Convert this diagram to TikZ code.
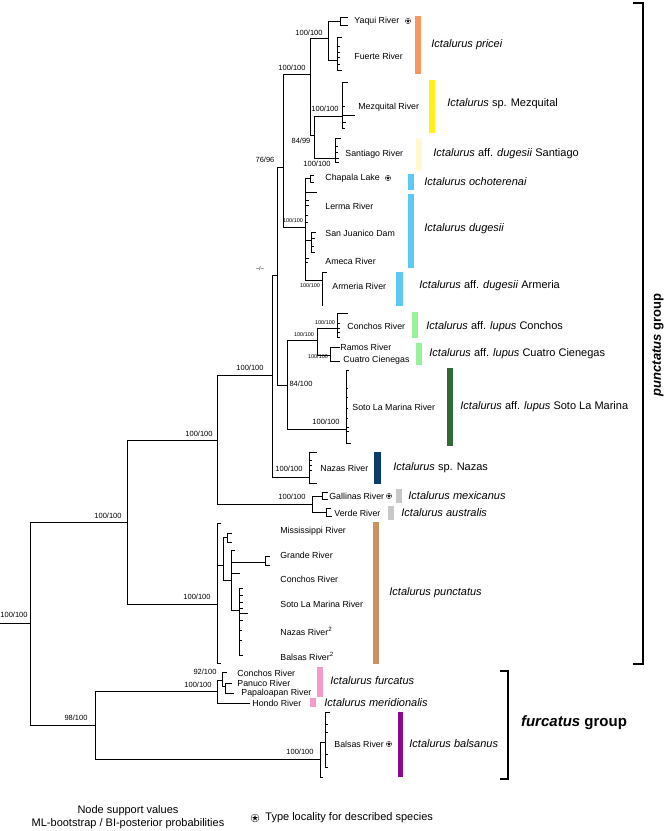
\documentclass[tikz,border=0pt]{standalone}
\usepackage{fontspec}
\setmainfont{Liberation Sans}
\definecolor{cpricei}{HTML}{F7965F}
\definecolor{cmezq}{HTML}{FFF21A}
\definecolor{csant}{HTML}{FFFAD0}
\definecolor{cdug}{HTML}{5BC8F5}
\definecolor{clupus}{HTML}{99F29A}
\definecolor{csoto}{HTML}{2F6B34}
\definecolor{cnazas}{HTML}{0D3B6E}
\definecolor{cgrey}{HTML}{C8C8C8}
\definecolor{cpunct}{HTML}{C8935F}
\definecolor{cfurc}{HTML}{F59BCB}
\definecolor{cbals}{HTML}{8B0A8B}
\begin{document}
\begin{tikzpicture}[x=1pt,y=-1pt,line width=0.8pt,
  tip/.style={anchor=west,inner sep=0pt,font=\fontsize{8.8}{10}\selectfont},
  spp/.style={anchor=west,inner sep=0pt,font=\fontsize{11}{13}\selectfont},
  supp/.style={inner sep=0pt,font=\fontsize{7.5}{9}\selectfont},
  suppsm/.style={inner sep=0pt,font=\fontsize{5.5}{7}\selectfont},
  typestar/.pic={\draw[line width=0.3pt] (0,0) circle (1);
    \fill (270:0.78) \foreach \a in {1,...,4}{-- (270+\a*144:0.78)} -- cycle;}]
\useasboundingbox (0,0) rectangle (669,831);

\coordinate (base) at (0,623);
\coordinate (root) at (30,623);
\coordinate (pg) at (127,522);
\coordinate (fg) at (95,725);
\coordinate (nA) at (217,440);
\coordinate (nP) at (217,604);
\coordinate (nB) at (272,375);
\coordinate (nGV) at (312,504);
\coordinate (nC) at (277,275);
\coordinate (nNaz) at (309,477);
\coordinate (nD) at (283,167);
\coordinate (nE) at (287,385);
\coordinate (nF) at (310,74);
\coordinate (nI) at (305,227);
\coordinate (nG) at (328,38);
\coordinate (nH) at (314,135);
\coordinate (nYaq) at (340,21);
\coordinate (nFue) at (337,60);
\coordinate (nMez) at (342,116);
\coordinate (nSan) at (335,158);
\coordinate (nCha) at (310,178);
\coordinate (nJua) at (311,240);
\coordinate (nArm) at (322,280);
\coordinate (nJ) at (317,340);
\coordinate (nCon) at (337,328);
\coordinate (nRC) at (330,355);
\coordinate (nSoto) at (346,429);
\coordinate (nGal) at (322,496);
\coordinate (nVer) at (326,512);
\coordinate (nQ) at (223,565);
\coordinate (nMis) at (227,537);
\coordinate (nR) at (231,580);
\coordinate (nGra) at (265,562);
\coordinate (nW) at (239,610);
\coordinate (nS) at (217,691);
\coordinate (nT) at (222,680);
\coordinate (nU) at (225,686);
\coordinate (nBal) at (320,759);
\coordinate (nV) at (325,742);

\draw (base) -- (root);
\draw (root) |- (pg);
\draw (root) |- (fg);
\draw (pg) |- (nA);
\draw (pg) |- (nP);
\draw (nA) |- (nB);
\draw (nA) |- (nGV);
\draw (nB) |- (nC);
\draw (nB) |- (nNaz);
\draw (nC) |- (nD);
\draw (nC) |- (nE);
\draw (nD) |- (nF);
\draw (nD) |- (nI);
\draw (nF) |- (nG);
\draw (nF) |- (nH);
\draw (nG) |- (nYaq);
\draw (nG) |- (nFue);
\draw (nH) |- (nMez);
\draw (nH) |- (nSan);
\draw (nI) |- (nCha);
\draw (nI) |- (nJua);
\draw (nI) |- (nArm);
\draw (nE) |- (nJ);
\draw (nE) |- (nSoto);
\draw (nJ) |- (nCon);
\draw (nJ) |- (nRC);
\draw (nGV) |- (nGal);
\draw (nGV) |- (nVer);
\draw (nP) |- (nQ);
\draw (nQ) |- (nMis);
\draw (nQ) |- (nR);
\draw (nR) |- (nGra);
\draw (nR) |- (nW);
\draw (fg) |- (nS);
\draw (fg) |- (nBal);
\draw (nS) |- (nT);
\draw (nT) |- (nU);
\draw (nBal) |- (nV);

\foreach \dy/\len in {-4/8,4/8} \draw (nYaq) |- ++(\len,\dy);
\foreach \dy/\len in {-23/5,-14/3,-8/3,-3/3,4/3,10/5} \draw (nFue) |- ++(\len,\dy);
\foreach \dy/\len in {-34/6,-10/3,-1/13,6/4,12/3} \draw (nMez) |- ++(\len,\dy);
\foreach \dy/\len in {-20/6,-12/3,-6/3,0/4,4/4} \draw (nSan) |- ++(\len,\dy);
\foreach \dy/\len in {-3/4,4/4} \draw (nCha) |- ++(\len,\dy);
\foreach \dy/\len in {-35/12,-27/4,-22/4,-12/3,-5/3,31/4,35/3} \draw (nI) |- ++(\len,\dy);
\foreach \dy/\len in {-8/5,-2/4,6/3,12/4} \draw (nJua) |- ++(\len,\dy);
\foreach \dy/\len in {-8/5,25/1} \draw (nArm) |- ++(\len,\dy);
\foreach \dy/\len in {-15/11,-5/3,0/3,4/3,9/3} \draw (nCon) |- ++(\len,\dy);
\foreach \dy/\len in {-8/10,6/10} \draw (nRC) |- ++(\len,\dy);
\foreach \dy/\len in {-59/3,-41/2,-32/2,-21/2,-11/2,-2/3,2/3,14/5} \draw (nSoto) |- ++(\len,\dy);
\foreach \dy/\len in {-25/8,-17/3,-12/3,-7/3,6/8} \draw (nNaz) |- ++(\len,\dy);
\foreach \dy/\len in {-4/6,3/6} \draw (nGal) |- ++(\len,\dy);
\foreach \dy/\len in {-4/5,4/6} \draw (nVer) |- ++(\len,\dy);
\foreach \dy/\len in {-81/4,59/4} \draw (nP) |- ++(\len,\dy);
\foreach \dy/\len in {-4/5,5/5} \draw (nMis) |- ++(\len,\dy);
\foreach \dy/\len in {-30/4,-7/9} \draw (nR) |- ++(\len,\dy);
\foreach \dy/\len in {-6/5,3/5} \draw (nGra) |- ++(\len,\dy);
\foreach \dy/\len in {-22/4,-15/4,-8/4,-2/4,3/9,10/4,20/3,30/3,45/4} \draw (nW) |- ++(\len,\dy);
\foreach \dy/\len in {-8/5} \draw (nT) |- ++(\len,\dy);
\foreach \dy/\len in {-3/7,7/9} \draw (nU) |- ++(\len,\dy);
\foreach \dy/\len in {12/33} \draw (nS) |- ++(\len,\dy);
\foreach \dy/\len in {18/3} \draw (nBal) |- ++(\len,\dy);
\foreach \dy/\len in {-30/5,-18/3,-10/3,12/3,25/3} \draw (nV) |- ++(\len,\dy);

\node[supp] (sroot) at (14,615) {100/100};
\node[supp] (sfg) at (76,718) {98/100};
\node[supp] (spg) at (108,516) {100/100};
\node[supp] (sA) at (199,434) {100/100};
\node[supp] (sP) at (197,597) {100/100};
\node[supp] (sS) at (198,685) {100/100};
\node[supp] (sT) at (205,672) {92/100};
\node[supp] (sB) at (250,368) {100/100};
\node[suppsm] (sC) at (260,269) {--/--};
\node[supp] (sD) at (265,160) {76/96};
\node[supp] (sF) at (292,68) {100/100};
\node[supp] (sG) at (309,33) {100/100};
\node[supp] (sH) at (301,141) {84/99};
\node[supp] (sMez) at (325,109) {100/100};
\node[supp] (sSan) at (317,164) {100/100};
\node[suppsm] (sI) at (293,221) {100/100};
\node[suppsm] (sArm) at (310,286) {100/100};
\node[suppsm] (sJ) at (304,335) {100/100};
\node[suppsm] (sCon) at (325,323) {100/100};
\node[suppsm] (sRC) at (318,357) {100/100};
\node[supp] (sE) at (301,384) {84/100};
\node[supp] (sSoto) at (326,422) {100/100};
\node[supp] (sNaz) at (289,469) {100/100};
\node[supp] (sGV) at (292,497) {100/100};
\node[supp] (sBal) at (300,752) {100/100};

\node[tip] (tYaq) at (354,21) {Yaqui River};
\node[tip] (tFue) at (354,56) {Fuerte River};
\node[tip] (tMez) at (358,107) {Mezquital River};
\node[tip] (tSan) at (345,154) {Santiago River};
\node[tip] (tCha) at (325,178) {Chapala Lake};
\node[tip] (tLer) at (325,206) {Lerma River};
\node[tip] (tJua) at (325,233) {San Juanico Dam};
\node[tip] (tAme) at (325,261) {Ameca River};
\node[tip] (tArm) at (332,286) {Armeria River};
\node[tip] (tCon) at (347,326) {Conchos River};
\node[tip] (tRam) at (340,347) {Ramos River};
\node[tip] (tCua) at (343,360) {Cuatro Cienegas};
\node[tip] (tSoto) at (352,407) {Soto La Marina River};
\node[tip] (tNaz) at (320,468) {Nazas River};
\node[tip] (tGal) at (329,496) {Gallinas River};
\node[tip] (tVer) at (334,513) {Verde River};
\node[tip] (tMis) at (280,531) {Mississippi River};
\node[tip] (tGra) at (280,555) {Grande River};
\node[tip] (tCon2) at (280,579) {Conchos River};
\node[tip] (tSoto2) at (280,604) {Soto La Marina River};
\node[tip] (tNaz2) at (280,631) {Nazas River\textsuperscript{2}};
\node[tip] (tBal2) at (280,656) {Balsas River\textsuperscript{2}};
\node[tip] (tCon3) at (237,673) {Conchos River};
\node[tip] (tPan) at (237,683) {Panuco River};
\node[tip] (tPap) at (241,693) {Papaloapan River};
\node[tip] (tHon) at (252,703) {Hondo River};
\node[tip] (tBal) at (334,744) {Balsas River};

\pic[scale=2.7] at (408,21) {typestar};
\pic[scale=2.7] at (388,178) {typestar};
\pic[scale=2.7] at (389,496) {typestar};
\pic[scale=2.7] at (389,744) {typestar};

\fill[cpricei] (415,16) rectangle (421,74);
\fill[cmezq] (429,80) rectangle (435,133);
\fill[csant] (416,138) rectangle (422,171);
\fill[cdug] (408,174) rectangle (414,190);
\fill[cdug] (408,194) rectangle (414,268);
\fill[cdug] (396,272) rectangle (403,306);
\fill[clupus] (412,312) rectangle (418,338);
\fill[clupus] (416,343) rectangle (422,365);
\fill[csoto] (447,368) rectangle (453,446);
\fill[cnazas] (374,452) rectangle (381,484);
\fill[cgrey] (396,489) rectangle (402,503);
\fill[cgrey] (388,506) rectangle (394,520);
\fill[cpunct] (373,522) rectangle (379,664);
\fill[cfurc] (317,667) rectangle (323,697);
\fill[cfurc] (310,698) rectangle (316,707);
\fill[cbals] (398,712) rectangle (403,777);

\node[spp] (kPri) at (431,45) {\textit{Ictalurus pricei}};
\node[spp] (kMez) at (447,104) {\textit{Ictalurus} sp. Mezquital};
\node[spp] (kSan) at (433,154) {\textit{Ictalurus} aff. \textit{dugesii} Santiago};
\node[spp] (kOch) at (424,182) {\textit{Ictalurus ochoterenai}};
\node[spp] (kDug) at (424,229) {\textit{Ictalurus dugesii}};
\node[spp] (kArm) at (419,286) {\textit{Ictalurus} aff. \textit{dugesii} Armeria};
\node[spp] (kCon) at (426,327) {\textit{Ictalurus} aff. \textit{lupus} Conchos};
\node[spp] (kCua) at (429,354) {\textit{Ictalurus} aff. \textit{lupus} Cuatro Cienegas};
\node[spp] (kSoto) at (460,407) {\textit{Ictalurus} aff. \textit{lupus} Soto La Marina};
\node[spp] (kNaz) at (393,468) {\textit{Ictalurus} sp. Nazas};
\node[spp] (kMex) at (408,496) {\textit{Ictalurus mexicanus}};
\node[spp] (kAus) at (401,513) {\textit{Ictalurus australis}};
\node[spp] (kPun) at (389,593) {\textit{Ictalurus punctatus}};
\node[spp] (kFur) at (330,681) {\textit{Ictalurus furcatus}};
\node[spp] (kMer) at (324,703) {\textit{Ictalurus meridionalis}};
\node[spp] (kBal) at (409,744) {\textit{Ictalurus balsanus}};

\draw[line width=1.8pt] (633,3) -- (643,3) -- (643,664) -- (633,664);
\node[rotate=90,inner sep=0pt,font=\fontsize{13}{15}\selectfont\bfseries] (gPun) at (658,345) {\textit{punctatus} group};
\draw[line width=1.8pt] (500,671) -- (508,671) -- (508,779) -- (500,779);
\node[inner sep=0pt,font=\fontsize{15}{17}\selectfont\bfseries] (gFur) at (574,723) {\textit{furcatus} group};

\node[inner sep=0pt,font=\fontsize{11}{13}\selectfont] (leg1) at (128,811) {Node support values};
\node[inner sep=0pt,font=\fontsize{11}{13}\selectfont] (leg2) at (128,824) {ML-bootstrap / BI-posterior probabilities};
\pic[scale=4] at (255,818) {typestar};
\node[anchor=west,inner sep=0pt,font=\fontsize{11}{13}\selectfont] (leg3) at (265,818) {Type locality for described species};
\end{tikzpicture}
\end{document}
